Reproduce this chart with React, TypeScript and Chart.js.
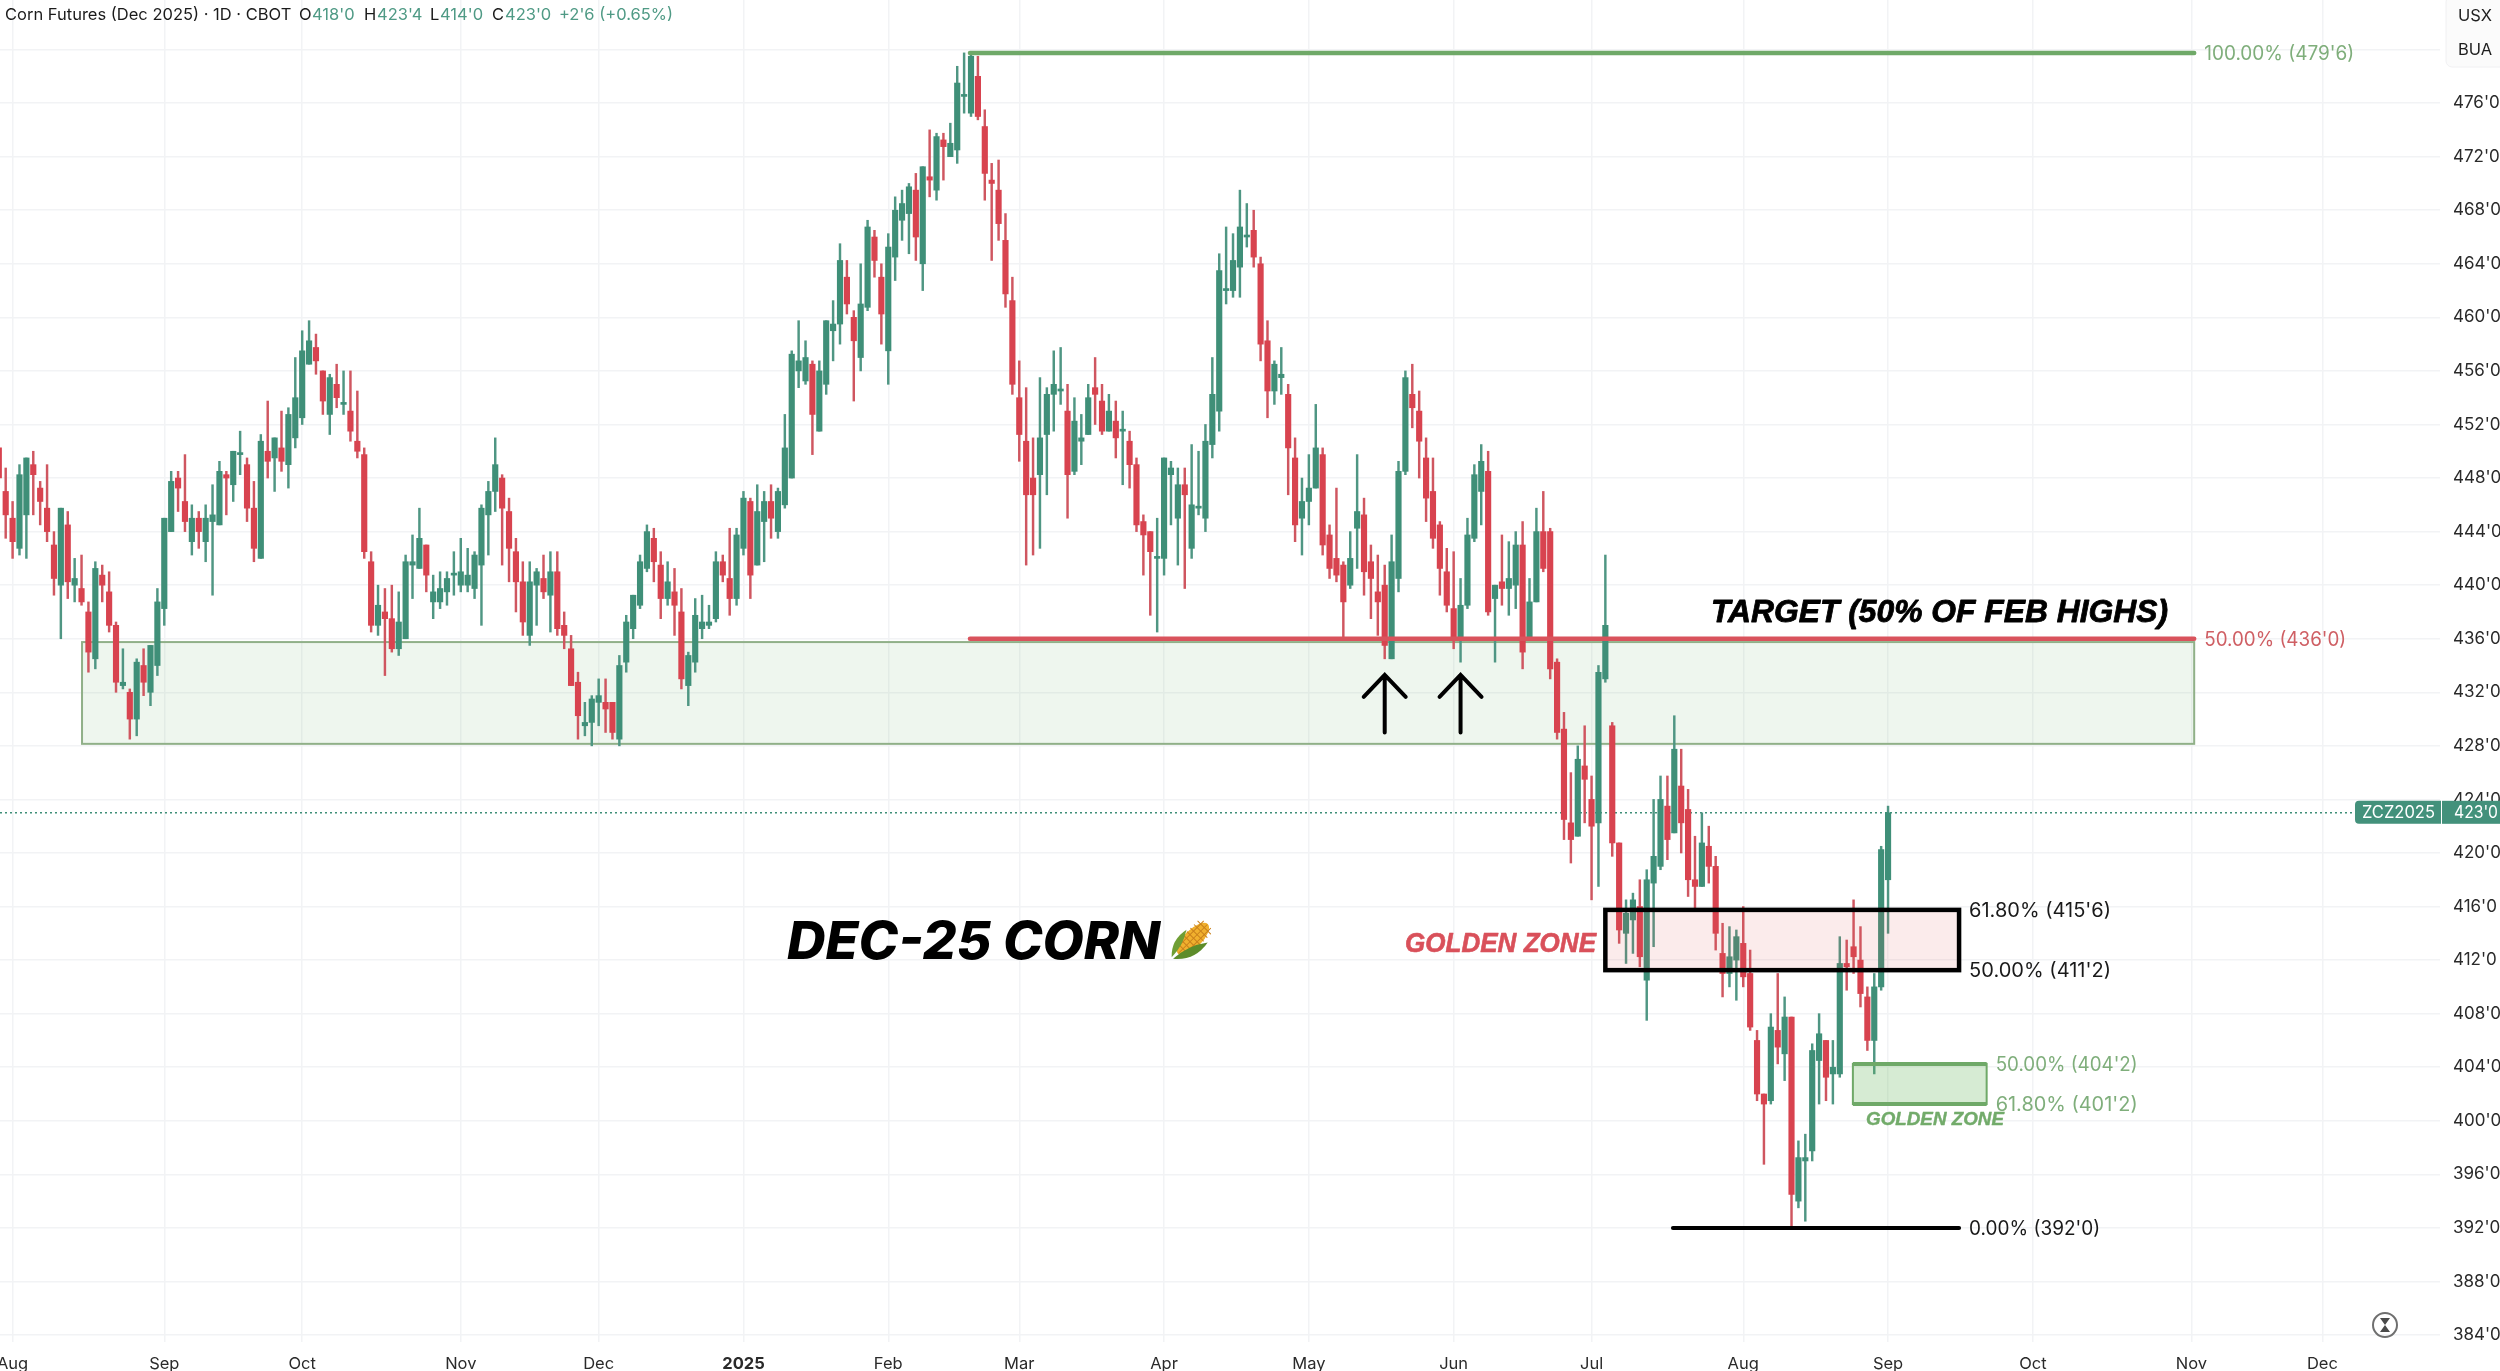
import React, { useEffect, useRef } from "react";
import { Chart, registerables } from "chart.js";

Chart.register(...registerables);

const opens = [
  450.25, 447, 445, 442.75, 445.25, 449, 447.25, 445.75, 443, 440,
  444.5, 440, 439.75, 438, 434.5, 440.75, 439.5, 437, 432.5, 432,
  430, 434, 432, 434, 438.25, 444, 448, 446.25, 443.25, 445,
  443.25, 444.75, 444.5, 448.25, 447.5, 449.75, 449, 445.75, 442, 450,
  449.5, 450.25, 449, 451, 452.5, 456.5, 457.75, 456, 452.75, 455,
  453.5, 453, 450.75, 449.75, 441.75, 437, 438, 437.5, 435.25, 436,
  441.5, 441.25, 443, 438.75, 438.75, 439.5, 440.75, 440, 440, 439.75,
  441.5, 445.25, 447, 448, 445.5, 442.5, 440.25, 436.25, 440, 440.5,
  439.25, 441, 437, 435.25, 432.75, 429.5, 429.75, 431.25, 431.25, 431.25,
  428.5, 434.25, 436.75, 438.5, 441.25, 443.5, 441.5, 439, 439.5, 438,
  432.5, 434.25, 436.75, 437, 437.5, 441.75, 440.5, 439, 442.75, 446.25,
  441.5, 444.75, 446.25, 444, 446, 448, 456, 455.25, 456.5, 451.5,
  455, 459, 459.5, 463, 460, 457, 460.75, 466, 463, 457.5,
  464.5, 467.25, 467.75, 469.5, 464, 470.5, 469.5, 473.25, 472, 472.5,
  476.5, 475.25, 478, 474.25, 470.25, 469.5, 465.75, 461.25, 454, 450.75,
  448, 448.25, 451.25, 454.25, 454.5, 453, 448.5, 450.75, 451.25, 454.75,
  453.75, 451.5, 452.25, 451.5, 450.75, 449, 444.75, 444, 442, 442,
  448.25, 445, 447.5, 442.75, 445.75, 445, 450.5, 453, 462, 462,
  463.75, 466, 466.5, 464, 458.25, 454.5, 455.5, 454.25, 449.5, 445,
  446.25, 447.25, 449.75, 443.75, 442, 441.5, 440, 444.25, 445.25, 441.75,
  439.5, 440, 434.5, 440.5, 448.5, 454.25, 453, 449.5, 447, 444.5,
  441, 438.25, 436, 438.5, 443.5, 447, 448.5, 439, 440.25, 439.75,
  440, 443, 436, 438.75, 444, 444, 434.25, 429.25, 422.25, 421.25,
  426.5, 424, 422.25, 433, 429.5, 420.75, 414, 415, 416, 410.5,
  417.75, 419, 423.5, 421.5, 425, 423.25, 418, 417.5, 420.5, 419,
  412.5, 411, 412, 413.25, 411, 406, 402, 401.5, 406.75, 405,
  407.75, 394, 397, 397.75, 404.5, 406, 403.5, 403.5, 411.75, 413,
  412, 409.25, 406, 410, 418,
];

const closes = [
  448, 445.25, 443.25, 448.25, 449.5, 448.25, 446.25, 444, 440.5, 445.75,
  440.25, 440.5, 438.75, 435, 441.25, 440, 437, 432.75, 432.75, 430,
  434.25, 432.75, 435.5, 438.75, 445, 447.75, 447.25, 444.75, 445, 444,
  445, 445.25, 448.5, 448, 450, 449.75, 445.75, 442.75, 450.75, 449.25,
  451, 449.25, 452.75, 454, 457.5, 458.25, 456.75, 453.75, 455.5, 454,
  453.5, 451.5, 450, 442.5, 437, 438.5, 437.5, 435.25, 437.25, 441.75,
  441.75, 443.5, 440.75, 439.5, 439.75, 440.5, 440.75, 441, 440.75, 442.25,
  445.75, 447, 449, 445.75, 442.75, 440.25, 437.25, 440.25, 441, 439.5,
  441, 436.75, 436.25, 432.5, 430.25, 429.75, 431.5, 431.75, 430.75, 429,
  434, 437.25, 439.25, 441.75, 444, 441.75, 439, 440.25, 438.5, 433,
  434.75, 437.75, 437.25, 437.25, 441.75, 440.75, 439, 443.75, 446.5, 440.75,
  445.5, 446.25, 445, 447, 450.25, 457.25, 456.75, 457, 452.75, 456,
  459.75, 459.5, 464.25, 461, 458.25, 461, 466.75, 464.25, 460.25, 465.25,
  468, 468.5, 469.75, 466, 471.25, 470.25, 473.5, 472.75, 473, 477.5,
  476.5, 479.5, 475, 470.75, 470, 467, 461.75, 455, 451.25, 446.75,
  446.75, 451, 454.25, 455, 454.5, 448.25, 452.25, 451, 454, 454.25,
  451.5, 453, 451, 451.5, 449, 444.5, 443.75, 442.5, 442, 449.5,
  448.75, 447.5, 446.75, 446, 445.75, 450.75, 454.25, 463.5, 462, 464.25,
  466.75, 466, 464.5, 458, 454.5, 456.5, 455.75, 450.25, 444.5, 446.25,
  447.25, 450.25, 443, 441.25, 440.75, 438.75, 442, 445.5, 441, 440.5,
  438.75, 435.5, 441.75, 448.5, 455.5, 453.25, 450.75, 446.5, 443.5, 441.25,
  438.5, 436, 438.5, 443.75, 448.25, 449.25, 438, 440, 439.75, 440.5,
  443, 435, 438.75, 444, 441.25, 433.75, 429, 422.5, 421, 427,
  425.5, 422, 433.5, 437, 420.75, 414.25, 415.5, 416.5, 412.25, 418,
  419.75, 424, 421, 427.75, 422.25, 418, 417.5, 420.75, 419, 414,
  411, 412.25, 413.75, 410.75, 407, 402, 401.25, 407, 405.5, 407.75,
  394.5, 397.25, 397.25, 405.25, 406.5, 403.25, 404, 411.75, 411.5, 412.25,
  409.5, 406, 410, 420.25, 423,
];

const highs = [
  450.25, 448.75, 446.25, 449, 449.5, 450, 447.75, 449, 444, 445.75,
  445.5, 442, 442.25, 438.75, 441.75, 441.5, 441, 437.25, 435.25, 432.25,
  434.5, 435.25, 435.5, 439.75, 445, 448.5, 448.5, 449.75, 446, 445.5,
  446, 447.5, 449.25, 448.5, 450, 451.5, 449.5, 447.75, 451.25, 453.75,
  451, 453, 453.25, 457, 459, 459.75, 458.75, 456, 455.75, 456.5,
  456, 456, 454.5, 450.25, 442.5, 440, 439.75, 440, 439.5, 442.25,
  443.75, 445.75, 443, 440.75, 441, 441, 442.5, 443.5, 442.75, 442.5,
  446, 447.75, 451, 448.25, 446.5, 443.5, 441.75, 441.75, 441.25, 442.25,
  442.5, 442.5, 438, 436.25, 433.5, 431.25, 431.75, 433, 433, 431.25,
  434.75, 437.75, 439.25, 442.25, 444.5, 444.25, 442.5, 441.75, 441.25, 439.75,
  435, 439, 439.25, 438.5, 442.5, 442.25, 444.25, 444.25, 447, 446.5,
  447.5, 447, 447.5, 447.25, 452.75, 457.5, 459.75, 458.25, 456.75, 456.75,
  459.75, 461.25, 465.5, 464.25, 460.5, 464, 467.25, 466.5, 464, 466.25,
  469, 469.5, 470, 470.75, 471.25, 474, 473.75, 473.75, 474.5, 478.75,
  479.75, 479.75, 479.5, 475.5, 471.5, 471.75, 467.75, 463, 456.75, 454.75,
  451, 455.5, 454.75, 457.5, 457.75, 455, 454, 452.75, 455, 457,
  455, 454.25, 453.75, 453, 451.5, 449.5, 445.25, 444, 445, 449.5,
  449.25, 448.75, 448.75, 450.5, 450, 452, 457, 464.75, 466.75, 466.25,
  469.5, 468.5, 468, 464.5, 459.75, 456.75, 457.75, 455, 451, 448,
  449.75, 453.5, 450.25, 444.5, 447.25, 441.75, 444, 449.75, 446.5, 443,
  442.25, 441.5, 443.75, 449.25, 456, 456.5, 454.5, 451, 449.5, 444.75,
  442.75, 442.5, 440.5, 445, 449, 450.5, 450, 440, 443.75, 443.25,
  444, 444.75, 440.5, 445.75, 447, 444.25, 434.5, 430.5, 426, 428,
  429.5, 425.75, 434, 442.25, 429.75, 420.75, 416.5, 417, 418, 418.75,
  424, 425.75, 425.75, 430.25, 427.75, 424.75, 421.25, 423, 422, 419.75,
  414.75, 414.5, 414.25, 416, 412.75, 406.75, 402, 408, 411, 409.25,
  407.75, 398.5, 399, 405.75, 408, 406, 406, 413.75, 413.5, 416.5,
  414.5, 410, 411, 420.5, 423.5,
];

const lows = [
  447.5, 443.5, 442, 442.25, 442, 445.25, 444.5, 443.25, 439.25, 436,
  439, 438.75, 438.5, 433.5, 433.75, 438.75, 436.5, 432, 432.25, 428.5,
  428.75, 431.75, 431, 433.25, 437, 444, 445.5, 444, 442.25, 442.75,
  441.75, 439.25, 444.5, 445.25, 446.25, 448.25, 444.75, 441.75, 442, 448,
  447, 448.5, 447.25, 450.25, 452, 456.5, 455.75, 452.75, 451.25, 453.25,
  452.75, 450.75, 449.5, 442, 436.5, 436.25, 433.25, 435, 434.75, 436,
  439, 441.25, 439.5, 437.5, 438.25, 438.5, 439.25, 439.5, 439.5, 439,
  437, 442.25, 445.5, 441.5, 440.25, 438, 436.25, 435.5, 437, 439,
  436.5, 436.25, 435.25, 432.5, 428.5, 428.75, 428, 429.5, 429, 428.5,
  428, 433.5, 436, 438.25, 441, 440.25, 437.5, 438.5, 436.25, 432.25,
  431, 433.5, 436, 436.75, 437.25, 440.25, 437.75, 438.5, 442.25, 439,
  441.5, 441.75, 443.5, 443.5, 445.75, 448, 454.75, 455, 449.75, 451.5,
  454.25, 456.75, 458, 460.25, 453.75, 456, 460.5, 463, 458, 455,
  462.75, 465.75, 464.75, 464.25, 462, 469, 468.75, 470.25, 472, 471.5,
  475.25, 475, 474.75, 468.75, 464.25, 465.75, 460.75, 454.25, 449.25, 441.5,
  442.25, 442.75, 446.75, 451.5, 453.5, 445, 448.25, 449, 451.25, 452,
  451.25, 451.5, 449.5, 447.5, 447.25, 444, 440.75, 437.75, 436.5, 440.75,
  444.5, 441.5, 439.75, 442, 445.25, 444, 449.5, 451.5, 461, 461.5,
  461.5, 465.25, 463.75, 456.75, 452.5, 453.5, 454.25, 446.75, 443.25, 442.25,
  444.5, 447.25, 442.25, 440.5, 440.25, 436, 439.75, 441.25, 439.25, 437.5,
  436.25, 434.5, 434.5, 439.5, 448.25, 451.75, 448, 444.75, 442.75, 439.25,
  438, 435.25, 434.25, 438.25, 443.25, 444.5, 437.75, 434.25, 438.5, 437.75,
  438.25, 433.75, 436, 438.75, 441, 433, 428.5, 421, 419.25, 421.25,
  422.25, 416.5, 417.5, 432.75, 419.75, 413.25, 411.75, 412.5, 411.5, 407.5,
  413, 418.75, 419.5, 421.5, 420, 416.75, 415.75, 417.5, 417.75, 412.75,
  409.25, 410, 409, 410, 406.75, 401.5, 396.75, 401.25, 404.25, 403,
  392, 393.5, 392.5, 397, 401.25, 401.5, 401.25, 403.25, 409.75, 411,
  408.5, 405.25, 403.5, 409.75, 414,
];

const priceTicks = [384, 388, 392, 396, 400, 404, 408, 412, 416, 420, 424, 428, 432, 436, 440, 444, 448, 452, 456, 460, 464, 468, 472, 476, 480];
const monthTickIndex = [2, 24, 44, 67, 87, 108, 129, 148, 169, 190, 211, 231, 253, 274, 295, 318, 337];
const monthTickLabels = ["Aug", "Sep", "Oct", "Nov", "Dec", "2025", "Feb", "Mar", "Apr", "May", "Jun", "Jul", "Aug", "Sep", "Oct", "Nov", "Dec"];

const X_MIN = 0.174;
const X_MAX = 354.05;
const Y_MIN = 383.48;
const Y_MAX = 483.7;
const LAST_PRICE = 423;

const fibLines = [
  { from: 140.85, to: 318.4, price: 479.75, color: "#6fa968", text: "100.00% (479'6)", textColor: "#7fae7b", width: 4.5, textWidth: 150 },
  { from: 140.85, to: 318.4, price: 436, color: "#d9535c", text: "50.00% (436'0)", textColor: "#cf5f64", width: 4.5, textWidth: 142 },
  { from: 242.8, to: 284.3, price: 392, color: "#000000", text: "0.00% (392'0)", textColor: "#1a1a1a", width: 4, textWidth: 131 },
];
const supportZone = { from: 12.07, to: 318.4, top: 435.75, bottom: 428.15 };
const redZone = { from: 233, to: 284.3, top: 415.75, bottom: 411.25, topText: "61.80% (415'6)", bottomText: "50.00% (411'2)" };
const greenZone = { from: 268.9, to: 288.3, top: 404.25, bottom: 401.25, topText: "50.00% (404'2)", bottomText: "61.80% (401'2)" };
const arrowIndexes = [201, 212];
const arrowRange = { top: 433.3, bottom: 429 };

const GREEN = "#3f8f78";
const RED = "#d8434f";
const WICK_GREEN = "#4f9683";
const WICK_RED = "#cf5660";
const SANS = "Inter, 'Liberation Sans', sans-serif";
const WIDE = "'Liberation Sans', Inter, sans-serif";

const barColor = (i: number, up: string, down: string) => (closes[i] >= opens[i] ? up : down);

function fitText(
  ctx: CanvasRenderingContext2D,
  text: string,
  x: number,
  y: number,
  width: number,
  font: string,
  color: string,
  baseline: CanvasTextBaseline = "alphabetic",
  heavy = 0,
) {
  ctx.save();
  ctx.font = font;
  ctx.fillStyle = color;
  ctx.strokeStyle = color;
  ctx.textAlign = "left";
  ctx.textBaseline = baseline;
  const w = ctx.measureText(text).width;
  ctx.translate(x, y);
  ctx.scale(width / w, 1);
  if (heavy > 0) {
    ctx.lineWidth = heavy;
    ctx.lineJoin = "round";
    ctx.strokeText(text, 0, 0);
  }
  ctx.fillText(text, 0, 0);
  ctx.restore();
}

function label(ctx: CanvasRenderingContext2D, text: string, x: number, y: number, color: string, font: string) {
  ctx.font = font;
  ctx.fillStyle = color;
  ctx.textAlign = "left";
  ctx.textBaseline = "middle";
  ctx.fillText(text, x, y);
}

const fibLabel = (ctx: CanvasRenderingContext2D, text: string, x: number, y: number, width: number, color: string) =>
  fitText(ctx, text, x, y, width, `19.5px ${SANS}`, color, "middle");

function drawCorn(ctx: CanvasRenderingContext2D, cx: number, cy: number) {
  ctx.save();
  ctx.translate(cx, cy);
  ctx.rotate(Math.PI / 4);
  ctx.fillStyle = "#f0b02e";
  ctx.beginPath();
  ctx.ellipse(-3, 0, 9, 21, 0, 0, Math.PI * 2);
  ctx.fill();
  ctx.strokeStyle = "#c9811c";
  ctx.lineWidth = 1;
  for (let k = -16; k <= 16; k += 5) {
    ctx.beginPath();
    ctx.moveTo(-12, k);
    ctx.lineTo(6, k);
    ctx.stroke();
  }
  for (let k = -8; k <= 3; k += 5) {
    ctx.beginPath();
    ctx.moveTo(k, -20);
    ctx.lineTo(k, 20);
    ctx.stroke();
  }
  ctx.fillStyle = "#6f9e34";
  ctx.beginPath();
  ctx.moveTo(-14, -2);
  ctx.quadraticCurveTo(-18, 16, -5, 28);
  ctx.quadraticCurveTo(-5, 12, -14, -2);
  ctx.fill();
  ctx.fillStyle = "#5d8c2a";
  ctx.beginPath();
  ctx.moveTo(10, -8);
  ctx.quadraticCurveTo(14, 14, -3, 28);
  ctx.quadraticCurveTo(-2, 8, 10, -8);
  ctx.fill();
  ctx.restore();
}

const underlayPlugin = {
  id: "underlay",
  beforeDatasetsDraw(chart: any) {
    const { ctx, scales } = chart;
    const X = (v: number) => scales.x.getPixelForValue(v);
    const Y = (v: number) => scales.y.getPixelForValue(v);
    ctx.save();
    const l = X(supportZone.from), r = X(supportZone.to), t = Y(supportZone.top), b = Y(supportZone.bottom);
    ctx.fillStyle = "rgba(92,170,96,0.105)";
    ctx.fillRect(l, t, r - l, b - t);
    ctx.strokeStyle = "#90b088";
    ctx.lineWidth = 2;
    ctx.strokeRect(l, t, r - l, b - t);
    ctx.setLineDash([2, 3]);
    ctx.strokeStyle = GREEN;
    ctx.lineWidth = 1.5;
    ctx.beginPath();
    ctx.moveTo(chart.chartArea.left, Y(LAST_PRICE));
    ctx.lineTo(chart.chartArea.right - 85, Y(LAST_PRICE));
    ctx.stroke();
    ctx.restore();
  },
};

const overlayPlugin = {
  id: "overlay",
  afterDatasetsDraw(chart: any) {
    const { ctx, scales } = chart;
    const X = (v: number) => scales.x.getPixelForValue(v);
    const Y = (v: number) => scales.y.getPixelForValue(v);
    ctx.save();

    // Fibonacci lines and their labels
    for (const f of fibLines) {
      ctx.strokeStyle = f.color;
      ctx.lineWidth = f.width;
      ctx.lineCap = "round";
      ctx.beginPath();
      ctx.moveTo(X(f.from), Y(f.price));
      ctx.lineTo(X(f.to), Y(f.price));
      ctx.stroke();
      fibLabel(ctx, f.text, X(f.to) + 10, Y(f.price) + 1, f.textWidth, f.textColor);
    }

    // Red golden zone
    {
      const l = X(redZone.from), r = X(redZone.to), t = Y(redZone.top), b = Y(redZone.bottom);
      ctx.fillStyle = "rgba(221,90,90,0.12)";
      ctx.fillRect(l, t, r - l, b - t);
      ctx.strokeStyle = "#000";
      ctx.lineWidth = 4.5;
      ctx.lineCap = "butt";
      ctx.strokeRect(l, t, r - l, b - t);
      fibLabel(ctx, redZone.topText, r + 10, t + 1, 142, "#1a1a1a");
      fibLabel(ctx, redZone.bottomText, r + 10, b + 1, 142, "#1a1a1a");
    }

    // Green golden zone
    {
      const l = X(greenZone.from), r = X(greenZone.to), t = Y(greenZone.top), b = Y(greenZone.bottom);
      ctx.fillStyle = "rgba(104,180,92,0.27)";
      ctx.fillRect(l, t, r - l, b - t);
      ctx.strokeStyle = "#6fa968";
      ctx.lineWidth = 2;
      ctx.strokeRect(l, t, r - l, b - t);
      ctx.lineWidth = 4;
      ctx.beginPath();
      ctx.moveTo(l, t); ctx.lineTo(r, t);
      ctx.moveTo(l, b); ctx.lineTo(r, b);
      ctx.stroke();
      fibLabel(ctx, greenZone.topText, r + 9, t + 1, 142, "#7fae7b");
      fibLabel(ctx, greenZone.bottomText, r + 9, b + 1, 142, "#7fae7b");
    }

    // Arrows
    ctx.strokeStyle = "#000";
    ctx.lineWidth = 4;
    ctx.lineCap = "round";
    ctx.lineJoin = "miter";
    for (const a of arrowIndexes) {
      const x = X(a), t = Y(arrowRange.top), b = Y(arrowRange.bottom);
      ctx.beginPath();
      ctx.moveTo(x, b); ctx.lineTo(x, t);
      ctx.moveTo(x - 21, t + 22); ctx.lineTo(x, t); ctx.lineTo(x + 21, t + 22);
      ctx.stroke();
    }

    // Hand-written annotations
    fitText(ctx, "TARGET (50% OF FEB HIGHS)", 1711, 622, 457, `italic bold 31px ${WIDE}`, "#000", "alphabetic", 0.8);
    fitText(ctx, "DEC-25 CORN", 787, 959, 373, `italic 800 52px ${SANS}`, "#000");
    drawCorn(ctx, 1195, 941);
    fitText(ctx, "GOLDEN ZONE", 1405, 952, 191, `italic bold 27px ${WIDE}`, "#d9505a", "alphabetic", 0.6);
    fitText(ctx, "GOLDEN ZONE", 1866, 1125, 138, `italic bold 19px ${WIDE}`, "#72ab6a", "alphabetic", 0.4);
    ctx.restore();
  },
  afterDraw(chart: any) {
    const { ctx, scales } = chart;
    const yLast = scales.y.getPixelForValue(LAST_PRICE);
    ctx.save();
    // Last-price tags
    ctx.fillStyle = "#43917b";
    ctx.beginPath();
    ctx.roundRect(2355, yLast - 12, 86, 23, [4, 0, 0, 4]);
    ctx.fill();
    ctx.fillRect(2442, yLast - 12, 58, 23);
    fitText(ctx, "ZCZ2025", 2362, yLast, 73, `17px ${SANS}`, "#ffffff", "middle");
    fitText(ctx, "423'0", 2454, yLast, 44, `17px ${SANS}`, "#ffffff", "middle");

    // Currency / unit badge
    ctx.fillStyle = "#fbfbfb";
    ctx.strokeStyle = "#f0f0f2";
    ctx.lineWidth = 1;
    ctx.beginPath();
    ctx.roundRect(2446, -4, 60, 71, 6);
    ctx.fill();
    ctx.stroke();
    ctx.fillStyle = "#1e1e1e";
    ctx.font = `16.5px ${SANS}`;
    ctx.textAlign = "center";
    ctx.textBaseline = "middle";
    ctx.fillText("USX", 2475, 16);
    ctx.fillText("BUA", 2475, 50);

    // Header line
    const green = "#4f9a85";
    const black = "#1b1b1b";
    const head: [string, number, string][] = [
      ["Corn Futures (Dec 2025) · 1D · CBOT", 5, black],
      ["O", 299, black], ["418'0", 312, green],
      ["H", 364, black], ["423'4", 377, green],
      ["L", 430, black], ["414'0", 440, green],
      ["C", 492, black], ["423'0", 505, green],
      ["+2'6 (+0.65%)", 559, green],
    ];
    for (const [t, x, c] of head) label(ctx, t, x, 15, c, `16.5px ${SANS}`);

    // Hourglass icon
    ctx.strokeStyle = "#6f6f6f";
    ctx.lineWidth = 2;
    ctx.beginPath();
    ctx.arc(2385, 1325, 12, 0, Math.PI * 2);
    ctx.stroke();
    ctx.fillStyle = "#4a4a4a";
    ctx.beginPath();
    ctx.moveTo(2380, 1318); ctx.lineTo(2390, 1318); ctx.lineTo(2385, 1325);
    ctx.lineTo(2390, 1332); ctx.lineTo(2380, 1332); ctx.lineTo(2385, 1325);
    ctx.closePath();
    ctx.fill();
    ctx.restore();
  },
};

export default function App() {
  const ref = useRef<HTMLCanvasElement | null>(null);
  useEffect(() => {
    document.body.style.margin = "0";
    document.body.style.background = "#ffffff";
    const index = opens.map((_, i) => i);
    const chart = new Chart(ref.current as HTMLCanvasElement, {
      type: "bar",
      data: {
        datasets: [
          {
            label: "Body",
            data: index.map((i) => ({ x: i, y: [opens[i], closes[i]] })) as any,
            backgroundColor: index.map((i) => barColor(i, GREEN, RED)),
            barThickness: 5.5,
            minBarLength: 2,
            grouped: false,
          },
          {
            label: "Wick",
            data: index.map((i) => ({ x: i, y: [lows[i], highs[i]] })) as any,
            backgroundColor: index.map((i) => barColor(i, WICK_GREEN, WICK_RED)),
            barThickness: 1.8,
            grouped: false,
          },
        ],
      },
      options: {
        responsive: false,
        animation: false,
        devicePixelRatio: 1,
        events: [],
        layout: { padding: 0 },
        plugins: { legend: { display: false }, tooltip: { enabled: false } },
        scales: {
          x: {
            type: "linear",
            offset: false,
            min: X_MIN,
            max: X_MAX,
            border: { display: false },
            grid: { color: "#f2f3f5", lineWidth: 1.5, offset: false, drawTicks: false },
            afterBuildTicks: (axis: any) => {
              axis.ticks = monthTickIndex.map((value) => ({ value }));
            },
            afterFit: (axis: any) => {
              axis.height = 29;
              axis.paddingLeft = 0;
              axis.paddingRight = 0;
            },
            ticks: {
              autoSkip: false,
              maxRotation: 0,
              minRotation: 0,
              padding: 12,
              color: "#2a2a2a",
              font: (c: any) => ({
                family: SANS,
                size: 16.5,
                weight: c.tick && c.tick.value === monthTickIndex[5] ? "bold" : "normal",
              }),
              callback: (v: any) => {
                const k = monthTickIndex.indexOf(v);
                return k >= 0 ? monthTickLabels[k] : "";
              },
            },
          },
          y: {
            type: "linear",
            position: "right",
            min: Y_MIN,
            max: Y_MAX,
            border: { display: false },
            grid: { color: "#f2f3f5", lineWidth: 1.5, drawTicks: false },
            afterBuildTicks: (axis: any) => {
              axis.ticks = priceTicks.map((value) => ({ value }));
            },
            afterFit: (axis: any) => {
              axis.width = 60;
              axis.paddingTop = 0;
              axis.paddingBottom = 0;
            },
            ticks: {
              autoSkip: false,
              padding: 13,
              color: "#2a2a2a",
              font: { family: SANS, size: 17 },
              callback: (v: any) => `${v}'0`,
            },
          },
        },
      } as any,
      plugins: [underlayPlugin, overlayPlugin],
    });
    return () => chart.destroy();
  }, []);
  return <canvas ref={ref} width={2500} height={1371} style={{ display: "block", width: 2500, height: 1371 }} />;
}
